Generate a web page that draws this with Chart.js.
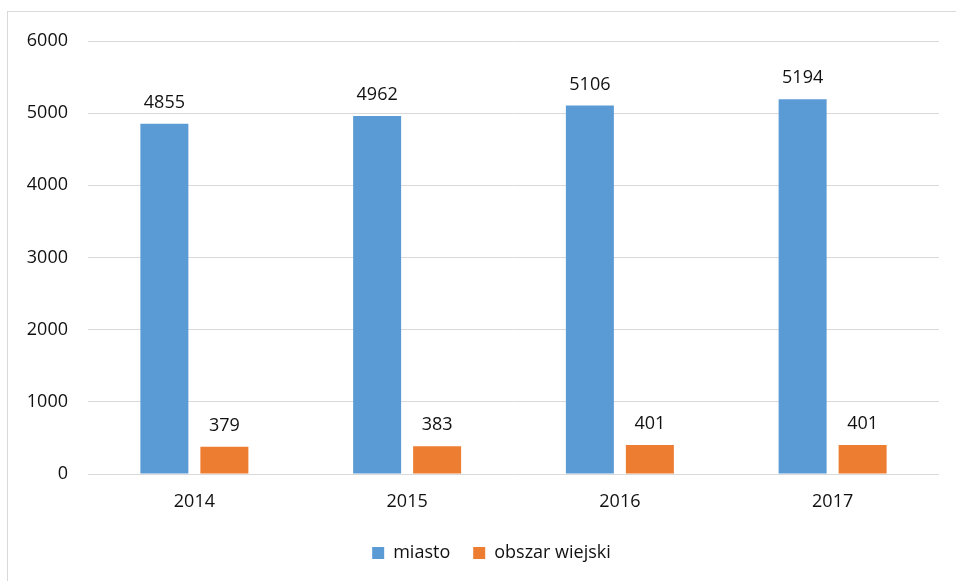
<!DOCTYPE html>
<html lang="pl">
<head>
    <meta charset="UTF-8">
    <title>Miasto i obszar wiejski 2014-2017</title>
    <script src="https://cdn.jsdelivr.net/npm/chart.js"></script>
    <style>
        body, html {
            margin: 0;
            padding: 0;
            background: #fff;
            overflow: hidden;
        }

        /* frame around the chart, open on the right and bottom */
        .frame {
            position: absolute;
            left: 7px;
            top: 11px;
            width: 1000px;
            height: 700px;
            border: 1px solid #d9d9d9;
        }

        .wrap {
            position: absolute;
            left: 0;
            top: 0;
            width: 956px;
            height: 581px;
        }
    </style>
</head>
<body>

    <div class="frame"></div>
    <div class="wrap">
        <canvas id="chart"></canvas>
    </div>

    <script>
        // Data
        const years = ['2014', '2015', '2016', '2017'];
        const miasto = [4855, 4962, 5106, 5194];
        const obszarWiejski = [379, 383, 401, 401];
        const yTicks = [0, 1000, 2000, 3000, 4000, 5000, 6000];

        const FONT = '"Open Sans", sans-serif';

        // value labels above every bar
        const valueLabels = {
            id: 'valueLabels',
            afterDatasetsDraw(chart) {
                const ctx = chart.ctx;
                ctx.save();
                ctx.font = '18px ' + FONT;
                ctx.fillStyle = '#111';
                ctx.textAlign = 'center';
                ctx.textBaseline = 'alphabetic';
                chart.data.datasets.forEach((ds, i) => {
                    chart.getDatasetMeta(i).data.forEach((bar, j) => {
                        ctx.fillText(String(ds.data[j]), bar.x, bar.y - 16);
                    });
                });
                ctx.restore();
            }
        };

        // legend sits centred on the whole frame, a bit right of the plot centre
        const legendShift = {
            id: 'legendShift',
            afterLayout(chart) {
                chart.legend.left += 22;
                chart.legend.right += 22;
            }
        };

        new Chart(document.getElementById('chart'), {
            type: 'bar',
            data: {
                labels: years,
                datasets: [
                    {
                        label: 'miasto',
                        data: miasto,
                        backgroundColor: '#5b9bd5',
                        borderWidth: 0
                    },
                    {
                        label: 'obszar wiejski',
                        data: obszarWiejski,
                        backgroundColor: '#ed7d31',
                        borderWidth: 0
                    }
                ]
            },
            options: {
                responsive: true,
                maintainAspectRatio: false,
                animation: false,
                datasets: {
                    bar: {
                        categoryPercentage: 0.564,
                        barPercentage: 0.8
                    }
                },
                layout: {
                    padding: { left: 0, right: 17, top: 41, bottom: 9 }
                },
                plugins: {
                    tooltip: { enabled: false },
                    legend: {
                        position: 'bottom',
                        labels: {
                            boxWidth: 12,
                            boxHeight: 12,
                            padding: 23,
                            color: '#111',
                            font: { family: FONT, size: 18 }
                        }
                    }
                },
                scales: {
                    x: {
                        grid: { display: false },
                        border: { display: false },
                        ticks: {
                            color: '#111',
                            padding: 9,
                            font: { family: FONT, size: 18 }
                        },
                        afterFit(scale) { scale.height = 47; }
                    },
                    y: {
                        min: 0,
                        max: 6000,
                        afterBuildTicks(scale) {
                            scale.ticks = yTicks.map(v => ({ value: v }));
                        },
                        afterFit(scale) { scale.width = 88; },
                        grid: {
                            color: '#d9d9d9',
                            lineWidth: 1,
                            drawTicks: false
                        },
                        border: { display: false },
                        ticks: {
                            color: '#111',
                            padding: 20,
                            font: { family: FONT, size: 18 },
                            callback: v => String(v)
                        }
                    }
                }
            },
            plugins: [valueLabels, legendShift]
        });
    </script>

</body>
</html>
